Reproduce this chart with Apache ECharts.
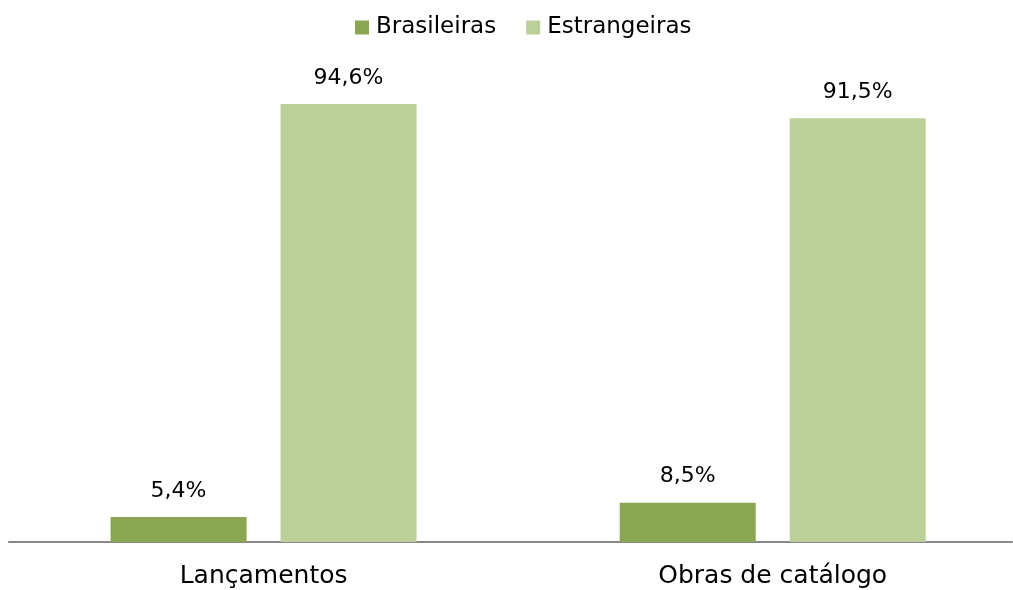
<!DOCTYPE html>
<html>
<head>
<meta charset="utf-8">
<script src="https://cdn.jsdelivr.net/npm/echarts@6/dist/echarts.min.js"></script>
<style>
html, body { margin: 0; padding: 0; background: #fff; }
#main { width: 1013px; height: 590px; }
</style>
</head>
<body>
<div id="main"></div>
<script>
// dados do gráfico
var categorias = ['Lançamentos', 'Obras de catálogo'];
var brasileiras = [5.4, 8.5];
var estrangeiras = [94.6, 91.5];

var fonte = 'DejaVu Sans';

var myChart = echarts.init(document.getElementById('main'));

// posição de cada categoria no eixo (0, 1, ...)
function pares(valores) {
    return valores.map(function (v, i) { return [i, v]; });
}

function rotulo(p) {
    return p.value[1].toFixed(1).replace('.', ',') + '%';
}

var option = {
    animation: false,
    legend: {
        top: 11,
        left: 350,
        itemWidth: 14,
        itemHeight: 14,
        itemGap: 30,
        icon: 'rect',
        textStyle: {
            fontFamily: fonte,
            fontSize: 23,
            color: '#000',
            padding: [0, 0, 0, 2]
        },
        data: ['Brasileiras', 'Estrangeiras']
    },
    grid: {
        left: 9,
        right: 1,
        top: 79,
        bottom: 48
    },
    // o gráfico original corta o lado direito do eixo
    xAxis: {
        type: 'value',
        min: -0.5,
        max: 1.47,
        splitLine: { show: false },
        axisTick: { show: false },
        axisLine: {
            lineStyle: { color: '#888', width: 2 }
        },
        axisLabel: {
            customValues: [0, 1],
            formatter: function (v) { return categorias[v]; },
            margin: 22,
            fontFamily: fonte,
            fontSize: 25,
            color: '#000'
        }
    },
    yAxis: {
        type: 'value',
        min: 0,
        max: 100,
        show: false
    },
    series: [
        {
            name: 'Brasileiras',
            type: 'bar',
            data: pares(brasileiras),
            barWidth: 136,
            barGap: '25%',
            itemStyle: { color: '#8BA651' },
            label: {
                show: true,
                position: 'top',
                distance: 15,
                formatter: rotulo,
                fontFamily: fonte,
                fontSize: 22,
                color: '#000'
            }
        },
        {
            name: 'Estrangeiras',
            type: 'bar',
            data: pares(estrangeiras),
            barWidth: 136,
            itemStyle: { color: '#BBCF98' },
            label: {
                show: true,
                position: 'top',
                distance: 15,
                formatter: rotulo,
                fontFamily: fonte,
                fontSize: 22,
                color: '#000'
            }
        }
    ]
};

myChart.setOption(option);
</script>
</body>
</html>
